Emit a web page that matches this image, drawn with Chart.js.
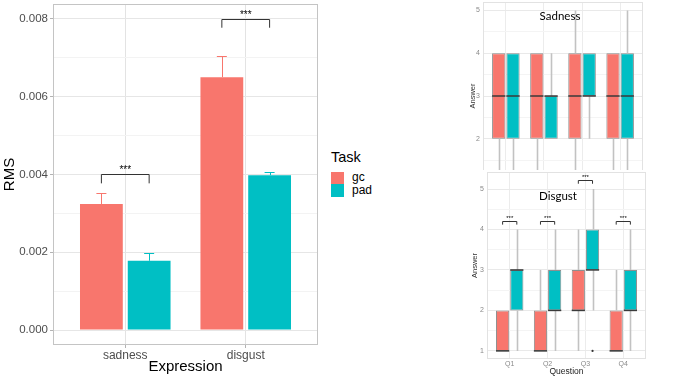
<!DOCTYPE html>
<html>
<head>
<meta charset="utf-8">
<script src="https://cdn.jsdelivr.net/npm/chart.js@4.4.1/dist/chart.umd.min.js"></script>
<style>
  html, body { margin: 0; padding: 0; background: #fff; }
  body { width: 677px; height: 379px; position: relative; overflow: hidden; font-family: "Liberation Sans", Arial, sans-serif; }
  #rmsChart { position: absolute; left: 0; top: 0; }
  #sadWrap { position: absolute; left: 460px; top: 0; width: 190px; height: 170px; overflow: hidden; }
  #disWrap { position: absolute; left: 460px; top: 170px; width: 190px; height: 209px; }
  .lg { position: absolute; color: #000; white-space: nowrap; }
  .sw { position: absolute; left: 331px; width: 13px; }
</style>
</head>
<body>
<canvas id="rmsChart" width="330" height="379"></canvas>

<!-- legend of the RMS chart -->
<div class="lg" style="left:331px; top:149px; font-size:14.5px; line-height:17px;">Task</div>
<div class="sw" style="top:172px; height:12px; background:#F8766D;"></div>
<div class="sw" style="top:184px; height:13px; background:#00BFC4;"></div>
<div class="lg" style="left:352px; top:171px; font-size:12px; line-height:13px;">gc</div>
<div class="lg" style="left:352px; top:184px; font-size:12px; line-height:13px;">pad</div>

<div id="sadWrap"><canvas id="sadChart" width="190" height="210"></canvas></div>
<div id="disWrap"><canvas id="disChart" width="190" height="209"></canvas></div>

<script>
// ---- RMS bar chart data ----
const expressions = ['sadness', 'disgust'];
const gcRms = [0.00324, 0.0065];
const padRms = [0.00178, 0.00398];
const gcErrTop = [0.00351, 0.00705];   // upper end of error bars
const padErrTop = [0.00197, 0.00407];
const rmsBracketY = [0.004, 0.008];    // significance brackets
const rmsGrid = [0, 0.001, 0.002, 0.003, 0.004, 0.005, 0.006, 0.007, 0.008];
const rmsTickLabels = ['0.000', '0.002', '0.004', '0.006', '0.008'];

// ---- questionnaire box plots ----
const questions = ['Q1', 'Q2', 'Q3', 'Q4'];
const answerGrid = [1, 1.5, 2, 2.5, 3, 3.5, 4, 4.5, 5];
const answerTickLabels = ['1', '2', '3', '4', '5'];

// Sadness
const sadGcMin = [1, 1, 1, 1];
const sadGcQ1 = [2, 2, 2, 2];
const sadGcMed = [3, 3, 3, 3];
const sadGcQ3 = [4, 4, 4, 4];
const sadGcMax = [4, 4, 5, 4];
const sadPadMin = [1, 2, 2, 1];
const sadPadQ1 = [2, 2, 3, 2];
const sadPadMed = [3, 3, 3, 3];
const sadPadQ3 = [4, 3, 4, 4];
const sadPadMax = [4, 4, 4, 5];

// Disgust
const disGcMin = [1, 1, 1, 1];
const disGcQ1 = [1, 1, 2, 1];
const disGcMed = [1, 1, 2, 1];
const disGcQ3 = [2, 2, 3, 2];
const disGcMax = [2, 3, 4, 3];
const disPadMin = [1, 1, 2, 1];
const disPadQ1 = [2, 2, 3, 2];
const disPadMed = [3, 2, 3, 2];
const disPadQ3 = [3, 3, 4, 3];
const disPadMax = [4, 4, 5, 4];
const disPadOutliers = [[], [], [1], []];
const disBracketY = [4.21, 4.21, 5.22, 4.21];

const GC = '#F8766D';
const PAD = '#00BFC4';

// no automatic margins for tick labels: chart area is set by layout padding only
function noMargins(s) {
  s.paddingTop = 0; s.paddingBottom = 0; s.paddingLeft = 0; s.paddingRight = 0;
}

// draws a "***" bracket between the two bars of category i
function drawBracket(chart, i, yVal, drop, fontSize) {
  const ctx = chart.ctx;
  const y = chart.scales.y;
  const a = chart.getDatasetMeta(0).data[i];
  const b = chart.getDatasetMeta(1).data[i];
  const yTop = Math.round(y.getPixelForValue(yVal)) + 0.5;
  const yTip = y.getPixelForValue(yVal - drop);
  ctx.save();
  ctx.strokeStyle = '#333';
  ctx.lineWidth = 1;
  ctx.beginPath();
  ctx.moveTo(a.x, yTip);
  ctx.lineTo(a.x, yTop);
  ctx.lineTo(b.x, yTop);
  ctx.lineTo(b.x, yTip);
  ctx.stroke();
  ctx.fillStyle = '#000';
  ctx.font = fontSize + 'px "Liberation Sans"';
  ctx.textAlign = 'center';
  ctx.textBaseline = 'alphabetic';
  ctx.fillText('***', (a.x + b.x) / 2, yTop - 1.5);
  ctx.restore();
}

function framePlugin(color) {
  return {
    id: 'frame',
    afterDatasetsDraw(chart) {
      const {ctx, chartArea: c} = chart;
      ctx.save();
      ctx.strokeStyle = color;
      ctx.lineWidth = 1;
      ctx.strokeRect(Math.round(c.left) + 0.5, Math.round(c.top) + 0.5,
        Math.round(c.right - c.left) - 1, Math.round(c.bottom - c.top) - 1);
      ctx.restore();
    }
  };
}

// ---------- left: RMS bars ----------
const rmsExtras = {
  id: 'rmsExtras',
  afterDatasetsDraw(chart) {
    const ctx = chart.ctx;
    const y = chart.scales.y;
    [[gcRms, gcErrTop, GC], [padRms, padErrTop, PAD]].forEach((s, d) => {
      chart.getDatasetMeta(d).data.forEach((bar, i) => {
        const y0 = y.getPixelForValue(s[0][i]);
        const y1 = Math.round(y.getPixelForValue(s[1][i])) + 0.5;
        ctx.save();
        ctx.strokeStyle = s[2];
        ctx.lineWidth = 1;
        ctx.beginPath();
        ctx.moveTo(Math.round(bar.x) + 0.5, y0);
        ctx.lineTo(Math.round(bar.x) + 0.5, y1);
        ctx.moveTo(bar.x - 5, y1);
        ctx.lineTo(bar.x + 5, y1);
        ctx.stroke();
        ctx.restore();
      });
    });
    rmsBracketY.forEach((v, i) => drawBracket(chart, i, v, 0.00023, 10));
  }
};

new Chart(document.getElementById('rmsChart'), {
  type: 'bar',
  data: {
    datasets: [
      { label: 'gc', data: expressions.map((e, i) => ({x: i, y: gcRms[i]})), backgroundColor: GC },
      { label: 'pad', data: expressions.map((e, i) => ({x: i, y: padRms[i]})), backgroundColor: PAD }
    ]
  },
  options: {
    responsive: false,
    animation: false,
    categoryPercentage: 0.793,
    barPercentage: 0.896,
    layout: { padding: { top: 4, right: 12, left: 0, bottom: 0 } },
    plugins: { legend: { display: false }, tooltip: { enabled: false } },
    scales: {
      x: {
        type: 'linear', min: -0.6, max: 1.6, offset: false,
        afterBuildTicks: s => { s.ticks = expressions.map((e, i) => ({value: i})); },
        afterFit: s => { s.height = 34; noMargins(s); },
        ticks: { callback: v => expressions[v], autoSkip: false, font: { size: 12, family: 'Liberation Sans' }, color: '#4d4d4d', padding: 0 },
        grid: { offset: false, color: '#e3e3e3', tickColor: '#b3b3b3', tickLength: 3 },
        border: { display: false },
        title: { display: true, text: 'Expression', font: { size: 15, family: 'Liberation Sans' }, color: '#000', padding: { top: 0, bottom: 3 } }
      },
      y: {
        min: -0.000385, max: 0.00838,
        afterBuildTicks: s => { s.ticks = rmsGrid.map(v => ({value: v})); },
        afterFit: s => { s.width = 53; noMargins(s); },
        ticks: {
          callback: (v, i) => (i % 2 === 0 ? rmsTickLabels[i / 2] : ''),
          autoSkip: false, font: { size: 11.5, family: 'Liberation Sans' }, color: '#4d4d4d', padding: 2
        },
        grid: {
          color: c => (c.index % 2 === 0 ? '#e6e6e6' : '#f3f3f3'),
          tickColor: c => (c.index % 2 === 0 ? '#b3b3b3' : 'rgba(0,0,0,0)'),
          tickLength: 3
        },
        border: { display: false },
        title: { display: true, text: 'RMS', font: { size: 15, family: 'Liberation Sans' }, color: '#000', padding: { top: 1, bottom: 0 } }
      }
    }
  },
  plugins: [framePlugin('#c4c4c4'), rmsExtras]
});

// ---------- right: box plots ----------
function makeBoxChart(id, cfg) {
  const series = [
    { min: cfg.gc[0], q1: cfg.gc[1], med: cfg.gc[2], q3: cfg.gc[3], max: cfg.gc[4], out: cfg.gcOut },
    { min: cfg.pad[0], q1: cfg.pad[1], med: cfg.pad[2], q3: cfg.pad[3], max: cfg.pad[4], out: cfg.padOut }
  ];
  const boxParts = {
    id: 'boxParts',
    afterDatasetsDraw(chart) {
      const ctx = chart.ctx;
      const y = chart.scales.y;
      series.forEach((s, d) => {
        chart.getDatasetMeta(d).data.forEach((bar, i) => {
          const cx = Math.round(bar.x) + 0.5;
          const half = bar.width / 2;
          ctx.save();
          ctx.strokeStyle = '#c2c2c2';
          ctx.lineWidth = 1.6;
          ctx.beginPath();
          if (s.max[i] > s.q3[i]) { ctx.moveTo(cx, y.getPixelForValue(s.q3[i])); ctx.lineTo(cx, y.getPixelForValue(s.max[i])); }
          if (s.min[i] < s.q1[i]) { ctx.moveTo(cx, y.getPixelForValue(s.q1[i])); ctx.lineTo(cx, y.getPixelForValue(s.min[i])); }
          ctx.stroke();
          ctx.strokeStyle = '#3a3a3a';
          ctx.lineWidth = 1.5;
          ctx.beginPath();
          const ym = y.getPixelForValue(s.med[i]);
          ctx.moveTo(bar.x - half, ym);
          ctx.lineTo(bar.x + half, ym);
          ctx.stroke();
          ctx.fillStyle = '#333';
          (s.out ? s.out[i] : []).forEach(v => {
            ctx.beginPath();
            ctx.arc(bar.x, y.getPixelForValue(v), 1.1, 0, Math.PI * 2);
            ctx.fill();
          });
          ctx.restore();
        });
      });
      if (cfg.brackets) cfg.brackets.forEach((v, i) => drawBracket(chart, i, v, 0.09, 6));
      // panel title
      const c = chart.chartArea;
      ctx.save();
      ctx.fillStyle = '#000';
      ctx.font = '11.5px Lato';
      ctx.textAlign = 'center';
      ctx.textBaseline = 'alphabetic';
      ctx.fillText(cfg.title, c.left + cfg.titleX, c.top + cfg.titleY);
      ctx.restore();
    }
  };
  const mk = (s, color, label) => ({
    label: label,
    data: questions.map((q, i) => ({x: i, y: [s.q1[i], s.q3[i]]})),
    backgroundColor: color,
    borderColor: '#8f8f8f',
    borderWidth: 1,
    borderSkipped: false
  });
  return new Chart(document.getElementById(id), {
    type: 'bar',
    data: { datasets: [mk(series[0], GC, 'gc'), mk(series[1], PAD, 'pad')] },
    options: {
      responsive: false,
      animation: false,
      categoryPercentage: 0.75,
      barPercentage: 0.93,
      layout: { padding: { top: 2, right: cfg.padRight, left: 0, bottom: 0 } },
      plugins: { legend: { display: false }, tooltip: { enabled: false } },
      scales: {
        x: {
          type: 'linear', min: -0.6, max: 3.6, offset: false,
          afterBuildTicks: s => { s.ticks = questions.map((q, i) => ({value: i})); },
          afterFit: s => { s.height = 20; noMargins(s); },
          ticks: { callback: v => questions[v], autoSkip: false, font: { size: 7, family: 'Liberation Sans' }, color: '#8a8a8a', padding: 1 },
          grid: { offset: false, color: '#ececec', drawTicks: false },
          border: { display: false },
          title: { display: true, text: 'Question', font: { size: 8.5, family: 'Liberation Sans' }, color: '#222', padding: { top: 0, bottom: 2 } }
        },
        y: {
          min: 0.8, max: cfg.yMax,
          afterBuildTicks: s => { s.ticks = answerGrid.map(v => ({value: v})); },
          afterFit: s => { s.width = cfg.yWidth; noMargins(s); },
          ticks: {
            callback: (v, i) => (i % 2 === 0 ? answerTickLabels[i / 2] : ''),
            autoSkip: false, font: { size: 7, family: 'Liberation Sans' }, color: '#8a8a8a', padding: 3
          },
          grid: { color: c => (c.index % 2 === 0 ? '#e9e9e9' : '#f4f4f4'), drawTicks: false },
          border: { display: false },
          title: { display: true, text: 'Answer', font: { size: 7.5, family: 'Liberation Sans' }, color: '#333', padding: { top: cfg.titlePad, bottom: 0 } }
        }
      }
    },
    plugins: [framePlugin('#e2e2e2'), boxParts]
  });
}

makeBoxChart('sadChart', {
  gc: [sadGcMin, sadGcQ1, sadGcMed, sadGcQ3, sadGcMax],
  pad: [sadPadMin, sadPadQ1, sadPadMed, sadPadQ3, sadPadMax],
  yMax: 5.2, yWidth: 23, padRight: 7, titlePad: 8.5,
  title: 'Sadness', titleX: 77, titleY: 18
});

makeBoxChart('disChart', {
  gc: [disGcMin, disGcQ1, disGcMed, disGcQ3, disGcMax],
  pad: [disPadMin, disPadQ1, disPadMed, disPadQ3, disPadMax],
  padOut: disPadOutliers,
  brackets: disBracketY,
  yMax: 5.42, yWidth: 27, padRight: 4, titlePad: 10.5,
  title: 'Disgust', titleX: 71, titleY: 28
});
</script>
</body>
</html>
